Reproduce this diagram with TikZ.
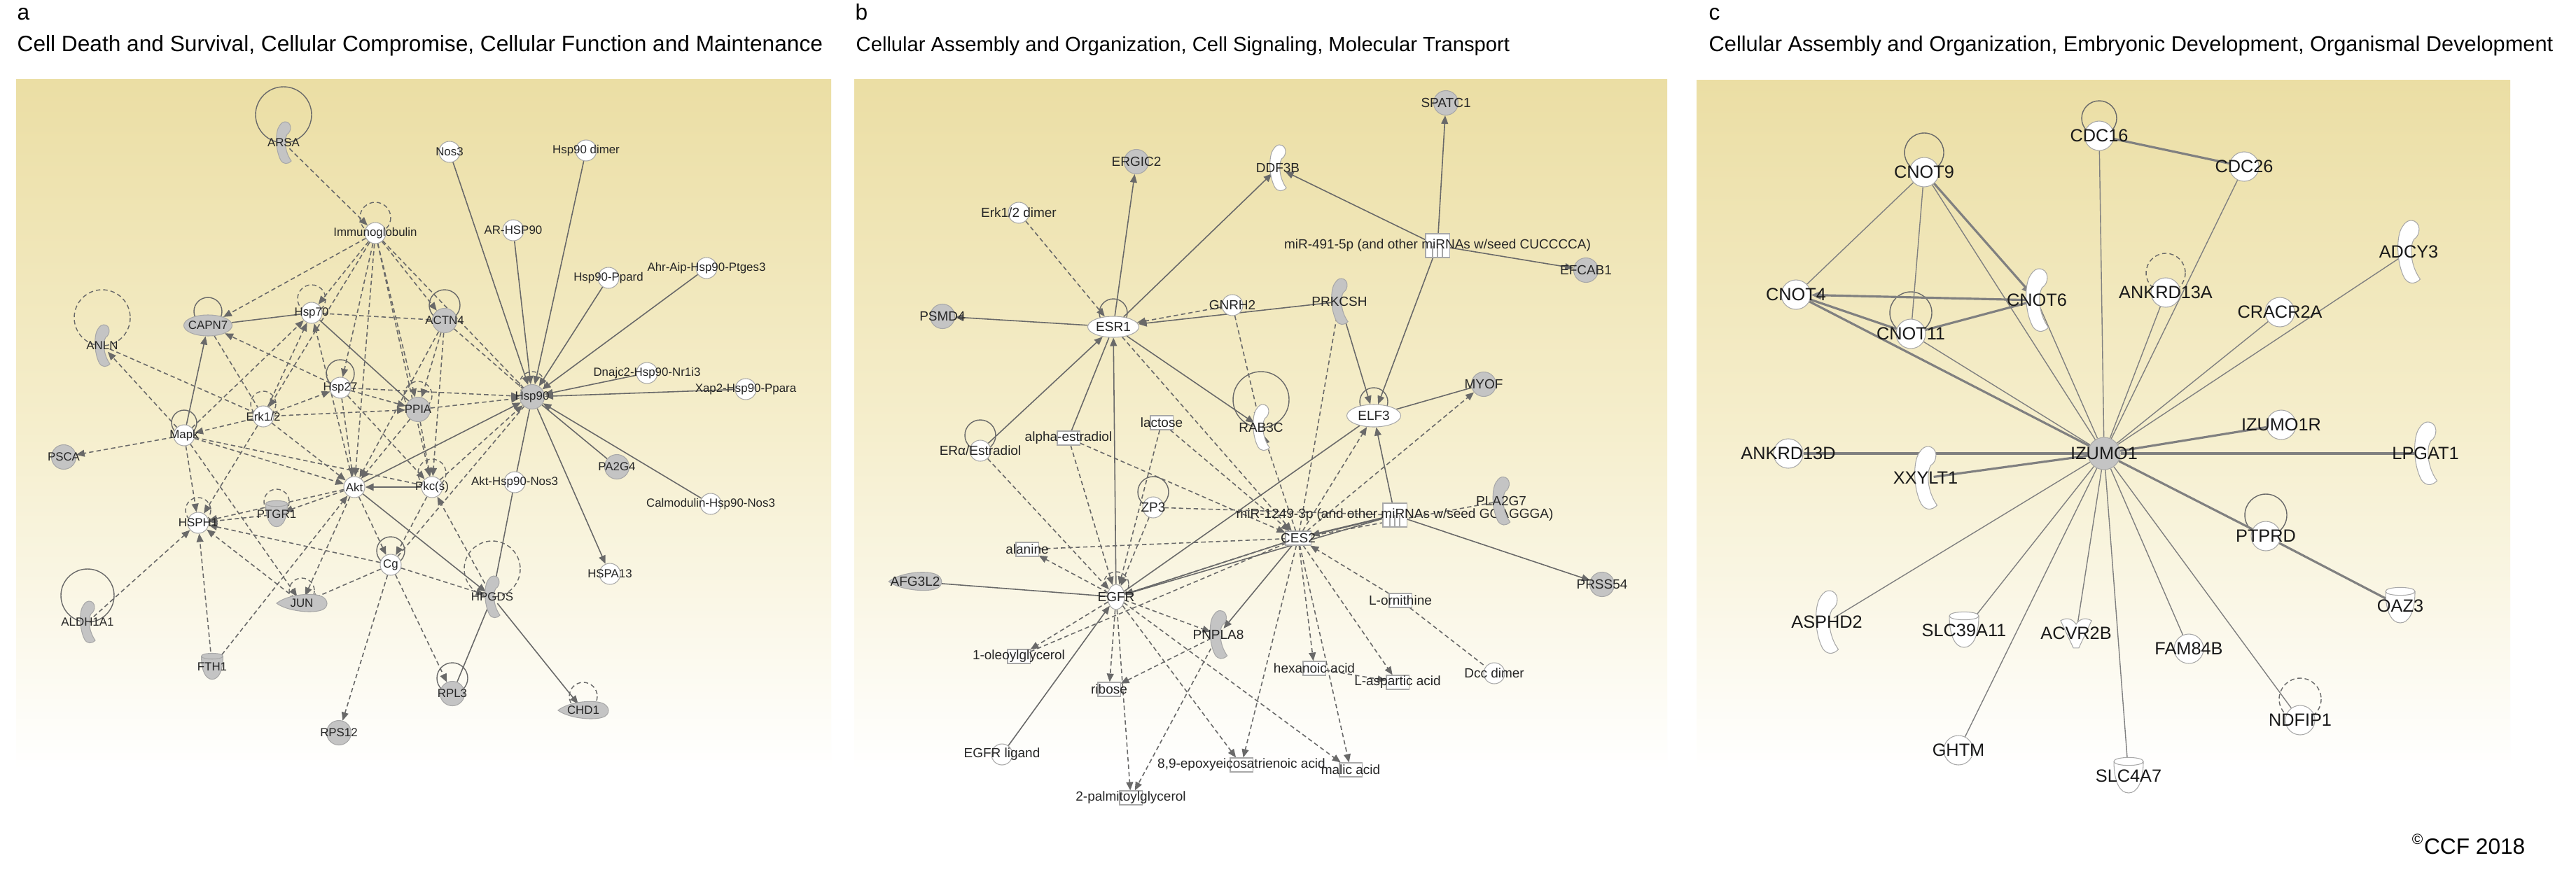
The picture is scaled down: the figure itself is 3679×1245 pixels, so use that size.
\documentclass[tikz,border=0pt]{standalone}
\usepackage{fontspec}
\setmainfont{Liberation Sans}
\usetikzlibrary{arrows.meta,shapes.geometric,calc}
\pgfdeclarelayer{panel}
\pgfdeclarelayer{bg}
\pgfsetlayers{panel,bg,main}

\definecolor{khaki}{RGB}{235,222,164}
\definecolor{khmid}{RGB}{245,238,204}
\definecolor{edgec}{RGB}{105,105,105}
\definecolor{edgecc}{RGB}{128,128,128}
\definecolor{nodeg}{RGB}{196,196,196}
\definecolor{rimc}{RGB}{168,168,168}

\tikzset{
  %% node looks
  gc/.style={circle,fill=nodeg,draw=rimc,line width=0.3pt,minimum size=0.35cm,inner sep=0pt},
  wc/.style={circle,fill=white,draw=rimc,line width=0.3pt,minimum size=0.30cm,inner sep=0pt},
  gel/.style={ellipse,fill=nodeg,draw=rimc,line width=0.3pt,minimum width=0.69cm,minimum height=0.30cm,inner sep=0pt},
  wel/.style={ellipse,fill=white,draw=rimc,line width=0.3pt,minimum width=0.73cm,minimum height=0.30cm,inner sep=0pt},
  anc/.style={circle,minimum size=0.22cm,inner sep=0pt},
  chem/.style={rectangle,fill=white,draw=rimc,line width=0.3pt,minimum width=0.32cm,minimum height=0.20cm,inner sep=0pt},
  mirbox/.style={rectangle,fill=white,draw=rimc,line width=0.3pt,minimum size=0.34cm,inner sep=0pt,
    path picture={
      \draw[rimc,line width=0.4pt] ([xshift=-0.07cm]path picture bounding box.south) -- ([xshift=-0.07cm]path picture bounding box.center);
      \draw[rimc,line width=0.4pt] (path picture bounding box.south) -- (path picture bounding box.center);
      \draw[rimc,line width=0.4pt] ([xshift=0.07cm]path picture bounding box.south) -- ([xshift=0.07cm]path picture bounding box.center);}},
  gpic/.style={fill=nodeg,draw=rimc,line width=0.3pt},
  wpic/.style={fill=white,draw=rimc,line width=0.3pt},
  la/.style={font=\fontsize{4.8}{5.5}\selectfont,text=black!85,inner sep=0pt},
  lb/.style={font=\fontsize{5.4}{6.2}\selectfont,text=black!85,inner sep=0pt},
  lc/.style={font=\fontsize{7.2}{8.2}\selectfont,text=black!90,inner sep=0pt},
  ttl/.style={anchor=base west,inner sep=0pt,font=\fontsize{9}{11}\selectfont},
  %% connectors
  sa/.style={draw=edgec,line width=0.45pt,-{Triangle[length=3.4pt,width=2.8pt]}},
  da/.style={sa,dash pattern=on 1.8pt off 1.2pt},
  sl/.style={draw=edgec,line width=0.45pt},
  dl/.style={sl,dash pattern=on 1.8pt off 1.2pt},
  lp/.style={draw=edgec,line width=0.4pt},
  dlp/.style={lp,dash pattern=on 1.8pt off 1.2pt},
  cs/.style={draw=edgecc,line width=0.4pt},
  cw/.style={draw=edgecc,line width=0.9pt},
  cwa/.style={cw,-{Triangle[length=4pt,width=3.2pt]}},
  %% shapes
  hook/.pic={\path[pic actions] (2,-30) .. controls (12,-30) and (12,-16) .. (5,-12)
      .. controls (1,-6) and (1,12) .. (11,26) .. controls (6,31) and (0,31) .. (-4,25)
      .. controls (-12,10) and (-12,-16) .. (-6,-24) .. controls (-3,-29) and (0,-30) .. (2,-30) -- cycle;},
  cup/.pic={\path[pic actions] (-14,-14) .. controls (-14,-19) and (14,-19) .. (14,-14)
      .. controls (14,6) and (8,16) .. (0,16) .. controls (-8,16) and (-14,6) .. (-14,-14) -- cycle;
    \path[draw=rimc,line width=0.3pt] (-14,-14) .. controls (-14,-9) and (14,-9) .. (14,-14);},
  tear/.pic={\path[pic actions] (-36,0) .. controls (-20,-13) and (18,-16) .. (30,-9)
      .. controls (38,-4) and (38,5) .. (30,9) .. controls (18,15) and (-20,12) .. (-36,0) -- cycle;},
  kin/.pic={\path[pic actions] (-17,-14) .. controls (-10,-18) and (-4,-16) .. (0,-10)
      .. controls (4,-16) and (10,-18) .. (17,-14) -- (3,16) -- (-3,16) -- cycle;},
}
\newcommand{\nodeloop}[3][lp]{\draw[#1] ($(#2)+(0,-#3)$) circle[radius=#3];}

\begin{document}
\begin{tikzpicture}[x=0.01cm,y=-0.01cm]
\useasboundingbox (0,0) rectangle (3679,1245);

%% panel backgrounds
\begin{pgfonlayer}{panel}
  \fill[white] (0,0) rectangle (3679,1245);
  \shade[top color=khaki,bottom color=white,middle color=khmid] (23,113) rectangle (1187,1100);
  \shade[top color=khaki,bottom color=white,middle color=khmid] (1220,113) rectangle (2381,1100);
  \shade[top color=khaki,bottom color=white,middle color=khmid] (2423,114) rectangle (3585,1100);
\end{pgfonlayer}

%% titles
\node[ttl] (pa) at (24,28) {a};
\node[ttl] (pat) at (24,73) {Cell Death and Survival, Cellular Compromise, Cellular Function and Maintenance};
\node[ttl] (pb) at (1221,28) {b};
\node[ttl,font=\fontsize{8.3}{10}\selectfont] (pbt) at (1222,73) {Cellular Assembly and Organization, Cell Signaling, Molecular Transport};
\node[ttl] (pc) at (2440,28) {c};
\node[ttl,font=\fontsize{8.75}{10.5}\selectfont] (pct) at (2440,73) {Cellular Assembly and Organization, Embryonic Development, Organismal Development};
\node[ttl,anchor=base east] (ccf) at (3607,1220) {\textsuperscript{©}CCF 2018};

%%%% panel a: the nodes
\pic[gpic] at (405,204) {hook};
\node[anc,label={[la]center:ARSA}] (arsa) at (405,204) {};
\node[wc,label={[la]center:Immunoglobulin}] (igg) at (536,333) {};
\node[wc,label={[la]center:Nos3}] (nos) at (642,217) {};
\node[wc,label={[la]center:{Hsp90 dimer}}] (hdim) at (837,215) {};
\node[wc,label={[la]center:AR-HSP90}] (arhsp) at (733,329) {};
\node[wc,label={[la]center:Hsp90-Ppard}] (hppd) at (869,397) {};
\node[wc,label={[la]center:Ahr-Aip-Hsp90-Ptges3}] (ahr) at (1009,383) {};
\node[wc,label={[la]center:Dnajc2-Hsp90-Nr1i3}] (dnaj) at (924,533) {};
\node[wc,label={[la]center:Xap2-Hsp90-Ppara}] (xap) at (1065,556) {};
\node[gc,label={[la]center:Hsp90}] (hsp) at (760,567) {};
\node[gc,label={[la]center:ACTN4}] (actn) at (635,458) {};
\node[gel,label={[la]center:CAPN7}] (capn) at (297,465) {};
\node[wc,label={[la]center:Hsp70}] (h70) at (445,447) {};
\pic[gpic] at (146,494) {hook};
\node[anc,label={[la]center:ANLN}] (anln) at (146,494) {};
\node[gc,label={[la]center:PSCA}] (psca) at (91,653) {};
\node[wc,label={[la]center:Mapk}] (mapk) at (263,622) {};
\node[wc,label={[la]center:Erk1/2}] (erk) at (376,595) {};
\node[wc,label={[la]center:Hsp27}] (h27) at (486,554) {};
\node[gc,label={[la]center:PPIA}] (ppia) at (597,585) {};
\node[wc,label={[la]center:Akt}] (akt) at (506,696) {};
\node[wc,label={[la]center:Pkc(s)}] (pkc) at (617,696) {};
\node[wc,label={[la]center:HSPH1}] (hsph) at (283,747) {};
\pic[gpic,scale=1.1] at (395,735) {cup};
\node[anc,label={[la]center:PTGR1}] (ptgr) at (395,735) {};
\pic[gpic] at (125,889) {hook};
\node[anc,label={[la]center:ALDH1A1}] (aldh) at (125,889) {};
\pic[gpic,scale=1.1] at (303,953) {cup};
\node[anc,label={[la]center:FTH1}] (fth) at (303,953) {};
\pic[gpic] at (431,862) {tear};
\node[anc,label={[la]center:JUN}] (jun) at (431,862) {};
\node[wc,label={[la]center:Cg}] (cg) at (558,807) {};
\node[gc,label={[la]center:RPS12}] (rps) at (484,1047) {};
\pic[gpic] at (703,853) {hook};
\node[anc,label={[la]center:HPGDS}] (hpgd) at (703,853) {};
\node[gc,label={[la]center:RPL3}] (rpl) at (646,991) {};
\pic[gpic] at (833,1015) {tear};
\node[anc,label={[la]center:CHD1}] (chd) at (833,1015) {};
\node[wc,label={[la]center:HSPA13}] (hspa) at (871,820) {};
\node[gc,label={[la]center:PA2G4}] (pa2g) at (881,667) {};
\node[wc,label={[la]center:Calmodulin-Hsp90-Nos3}] (calm) at (1015,720) {};
\node[wc,label={[la]center:Akt-Hsp90-Nos3}] (akth) at (735,689) {};

%%%% panel b: the nodes
\node[gc,label={[lb]center:ERGIC2}] (ergic) at (1623,231) {};
\pic[wpic,scale=1.1] at (1825,240) {hook};
\node[anc,label={[lb]center:DDF3B}] (ddf) at (1825,240) {};
\node[wc,label={[lb]center:{Erk1/2 dimer}}] (erkd) at (1455,304) {};
\node[gc,label={[lb]center:PSMD4}] (psmd) at (1346,452) {};
\node[wel,label={[lb]center:ESR1}] (esr) at (1590,467) {};
\node[wc,label={[lb]center:GNRH2}] (gnrh) at (1760,436) {};
\pic[gpic,scale=1.1] at (1913,431) {hook};
\node[anc,label={[lb]center:PRKCSH}] (prkc) at (1913,431) {};
\node[gc,label={[lb]center:SPATC1}] (spatc) at (2065,147) {};
\node[mirbox,label={[lb]center:{miR-491-5p (and other miRNAs w/seed CUCCCCA)}}] (mira) at (2053,351) {};
\node[gc,label={[lb]center:EFCAB1}] (efcab) at (2265,386) {};
\node[gc,label={[lb]center:MYOF}] (myof) at (2119,549) {};
\node[wel,minimum width=0.77cm,minimum height=0.32cm,label={[lb]center:ELF3}] (elf) at (1962,594) {};
\pic[wpic,scale=1.1] at (1801,611) {hook};
\node[anc,label={[lb]center:RAB3C}] (rab) at (1801,611) {};
\node[chem,label={[lb]center:lactose}] (lact) at (1659,604) {};
\node[chem,label={[lb]center:alpha-estradiol}] (aest) at (1526,626) {};
\node[wc,label={[lb]center:ERα/Estradiol}] (eres) at (1400,644) {};
\node[wc,label={[lb]center:ZP3}] (zp) at (1647,725) {};
\node[mirbox,label={[lb]center:{miR-1249-3p (and other miRNAs w/seed GGAGGGA)}}] (mirb) at (1992,736) {};
\node[chem,minimum width=0.36cm,label={[lb]center:CES2}] (ces) at (1854,769) {};
\pic[gpic,scale=1.15] at (2144,716) {hook};
\node[anc,label={[lb]center:PLA2G7}] (pla) at (2144,716) {};
\node[gc,label={[lb]center:PRSS54}] (prss) at (2288,835) {};
\node[chem,label={[lb]center:alanine}] (ala) at (1467,785) {};
\pic[gpic,scale=1.05] at (1307,831) {tear};
\node[anc,label={[lb]center:AFG3L2}] (afg) at (1307,831) {};
\node[wel,minimum width=0.24cm,minimum height=0.36cm,label={[lb]center:EGFR}] (egfr) at (1594,853) {};
\pic[gpic,scale=1.15] at (1740,907) {hook};
\node[anc,label={[lb]center:PNPLA8}] (pnpla) at (1740,907) {};
\node[chem,label={[lb]center:1-oleoylglycerol}] (olg) at (1455,938) {};
\node[chem,label={[lb]center:ribose}] (rib) at (1584,985) {};
\node[wc,label={[lb]center:{EGFR ligand}}] (egfl) at (1431,1078) {};
\node[chem,label={[lb]center:2-palmitoylglycerol}] (pal) at (1615,1140) {};
\node[chem,label={[lb]center:{8,9-epoxyeicosatrienoic acid}}] (epox) at (1773,1093) {};
\node[chem,label={[lb]center:{hexanoic acid}}] (hex) at (1877,955) {};
\node[chem,label={[lb]center:{L-aspartic acid}}] (asp) at (1996,975) {};
\node[chem,label={[lb]center:{malic acid}}] (mal) at (1929,1100) {};
\node[chem,label={[lb]center:L-ornithine}] (orn) at (2000,858) {};
\node[wc,label={[lb]center:{Dcc dimer}}] (dcc) at (2134,962) {};

%%%% panel c: the nodes
\node[wc,minimum size=0.42cm,label={[lc]center:CDC16}] (cdc16) at (2998,194) {};
\node[wc,minimum size=0.42cm,label={[lc]center:CDC26}] (cdc26) at (3205,238) {};
\node[wc,minimum size=0.42cm,label={[lc]center:CNOT9}] (cnot9) at (2748,246) {};
\node[wc,minimum size=0.42cm,label={[lc]center:CNOT4}] (cnot4) at (2565,421) {};
\node[wc,minimum size=0.42cm,label={[lc]center:CNOT11}] (cnot11) at (2729,477) {};
\pic[wpic,scale=1.5] at (2909,429) {hook};
\node[anc,label={[lc]center:CNOT6}] (cnot6) at (2909,429) {};
\node[wc,minimum size=0.42cm,label={[lc]center:ANKRD13A}] (ankA) at (3093,418) {};
\pic[wpic,scale=1.5] at (3440,360) {hook};
\node[anc,label={[lc]center:ADCY3}] (adcy) at (3440,360) {};
\node[wc,minimum size=0.42cm,label={[lc]center:CRACR2A}] (cracr) at (3256,446) {};
\node[wc,minimum size=0.42cm,label={[lc]center:IZUMO1R}] (izr) at (3258,607) {};
\pic[wpic,scale=1.5] at (3464,648) {hook};
\node[anc,label={[lc]center:LPGAT1}] (lpgat) at (3464,648) {};
\node[gc,minimum size=0.46cm,label={[lc]center:IZUMO1}] (izumo) at (3005,648) {};
\node[wc,minimum size=0.42cm,label={[lc]center:ANKRD13D}] (ankD) at (2554,648) {};
\pic[wpic,scale=1.5] at (2750,683) {hook};
\node[anc,label={[lc]center:XXYLT1}] (xxylt) at (2750,683) {};
\node[wc,minimum size=0.42cm,label={[lc]center:PTPRD}] (ptprd) at (3236,766) {};
\pic[wpic,scale=1.5] at (2609,889) {hook};
\node[anc,label={[lc]center:ASPHD2}] (asphd) at (2609,889) {};
\pic[wpic,scale=1.5] at (2805,901) {cup};
\node[anc,label={[lc]center:SLC39A11}] (slcA) at (2805,901) {};
\pic[wpic,scale=1.3] at (2965,905) {kin};
\node[anc,label={[lc]center:ACVR2B}] (acvr) at (2965,905) {};
\node[wc,minimum size=0.42cm,label={[lc]center:FAM84B}] (fam) at (3126,927) {};
\pic[wpic,scale=1.5] at (3428,866) {cup};
\node[anc,label={[lc]center:OAZ3}] (oaz) at (3428,866) {};
\node[wc,minimum size=0.42cm,label={[lc]center:NDFIP1}] (ndfip) at (3285,1029) {};
\node[wc,minimum size=0.42cm,label={[lc]center:GHTM}] (ghtm) at (2797,1072) {};
\pic[wpic,scale=1.5] at (3040,1109) {cup};
\node[anc,label={[lc]center:SLC4A7}] (slcB) at (3040,1109) {};

\begin{pgfonlayer}{bg}
%%%% panel a: loops
\nodeloop{arsa}{40}
\nodeloop[dlp]{igg}{22}
\nodeloop[dlp]{hsp}{18}
\nodeloop{actn}{22}
\nodeloop{capn}{20}
\nodeloop[dlp]{h70}{20}
\nodeloop[dlp]{anln}{40}
\nodeloop{mapk}{18}
\nodeloop[dlp]{erk}{18}
\nodeloop{h27}{20}
\nodeloop[dlp]{ppia}{20}
\nodeloop[dlp]{pkc}{20}
\nodeloop[dlp]{hsph}{18}
\nodeloop[dlp]{ptgr}{18}
\nodeloop{aldh}{38}
\nodeloop[dlp]{jun}{18}
\nodeloop{cg}{20}
\nodeloop[dlp]{hpgd}{40}
\nodeloop{rpl}{22}
\nodeloop[dlp]{chd}{20}

%%%% panel a: into the Hsp90 hub
\draw[sa](nos) to (hsp);
\draw[sa](hdim) to (hsp);
\draw[sa](arhsp) to (hsp);
\draw[sa](hppd) to (hsp);
\draw[sa](ahr) to (hsp);
\draw[sa](dnaj) to (hsp);
\draw[sa](xap) to (hsp);
\draw[sa](calm) to (hsp);
\draw[sl](pa2g) to (hsp);
\draw[sa](hsp) to (hspa);
\draw[sl](hsp) to (akth);
\draw[sa](akt) to (hsp);
\draw[da](pkc) to (hsp);
\draw[da](h27) to (hsp);
\draw[da](ppia) to (hsp);
\draw[dl](actn) to (hsp);
\draw[dl](igg) to (hsp);
\draw[dl](cg) to (hsp);

%%%% panel a: Immunoglobulin
\draw[da](arsa) to (igg);
\draw[da](igg) to (capn);
\draw[da](igg) to (h70);
\draw[da](igg) to (actn);
\draw[da](igg) to (h27);
\draw[da](igg) to (akt);
\draw[da](igg) to (pkc);
\draw[da](igg) to (ppia);
\draw[da](igg) to (erk);

%%%% panel a: left cluster
\draw[sl](capn) to (h70);
\draw[sa](mapk) to (capn);
\draw[da](h27) to (capn);
\draw[dl](capn) to (erk);
\draw[dl](h70) to (actn);
\draw[sl](h70) to (ppia);
\draw[da](mapk) to (h70);
\draw[da](erk) to (h70);
\draw[da](akt) to (h70);
\draw[da](mapk) to (anln);
\draw[dl](anln) to (erk);
\draw[da](mapk) to (psca);
\draw[da](mapk) to (hsph);
\draw[da](mapk) to (akt);
\draw[dl](mapk) to (pkc);
\draw[da](erk) to (mapk);
\draw[da](erk) to (akt);
\draw[da](erk) to (hsph);
\draw[da](erk) to (h27);
\draw[da](erk) to (ppia);
\draw[da](h27) to (akt);
\draw[da](h27) to (pkc);
\draw[da](h27) to (ppia);
\draw[da](ppia) to (akt);
\draw[da](ppia) to (pkc);
\draw[da](actn) to (akt);
\draw[da](actn) to (ppia);
\draw[da](actn) to (pkc);
\draw[sa,line width=0.8pt](pkc) to (akt);
\draw[da](ptgr) to (hsph);
\draw[da](akt) to (hsph);
\draw[da](cg) to (hsph);
\draw[da](aldh) to (hsph);
\draw[da](fth) to (hsph);
\draw[da](jun) to (hsph);
\draw[da](fth) to (akt);
\draw[da](akt) to (ptgr);
\draw[da](akt) to (jun);
\draw[da](cg) to (jun);
\draw[da](mapk) to (jun);
\draw[da](akt) to (cg);
\draw[da](pkc) to (cg);

%%%% panel a: lower right
\draw[sl](akth) to (hpgd);
\draw[sa](hpgd) to (chd);
\draw[sl](hpgd) to (rpl);
\draw[sa](akt) to (hpgd);
\draw[da](cg) to (hpgd);
\draw[da](hpgd) to (pkc);
\draw[da](cg) to (rpl);
\draw[da](cg) to (rps);

%%%% panel b: loops
\nodeloop{esr}{20}
\nodeloop{elf}{20}
\nodeloop{rab}{40}
\nodeloop{eres}{22}
\nodeloop{zp}{22}
\nodeloop[dlp]{egfr}{18}

%%%% panel b: ESR1
\draw[sa](esr) to (ergic);
\draw[sa](esr) to (ddf);
\draw[da](erkd) to (esr);
\draw[sa](esr) to (psmd);
\draw[da](gnrh) to (esr);
\draw[sa](prkc) to (esr);
\draw[sa](eres) to (esr);
\draw[sl](aest) to (esr);
\draw[sa](egfr) to (esr);
\draw[sa](esr) to (rab);
\draw[da](esr) to (ces);
\draw[da](gnrh) to (rab);

%%%% panel b: miRNAs
\draw[sa](mira) to (spatc);
\draw[sa](mira) to (ddf);
\draw[sa](mira) to (efcab);
\draw[sa](mira) to (elf);
\draw[sa](mirb) to (elf);
\draw[sa](mirb) to (prss);
\draw[sa,line width=0.7pt](mirb) to (ces);
\draw[sa](mirb) to (egfr);
\draw[dl](zp) to (mirb);

%%%% panel b: ELF3 and CES2
\draw[sa](prkc) to (elf);
\draw[dl](prkc) to (ces);
\draw[sl](elf) to (myof);
\draw[da](ces) to (myof);
\draw[sl](elf) to (egfr);
\draw[da](ces) to (elf);
\draw[da](ces) to (rab);
\draw[dl](pla) to (ces);
\draw[sa](ces) to (egfr);
\draw[da](lact) to (ces);
\draw[da](aest) to (ces);
\draw[dl](ala) to (ces);
\draw[dl](olg) to (ces);
\draw[dl](egfr) to (ces);
\draw[sa](ces) to (pnpla);
\draw[da](ces) to (hex);
\draw[da](ces) to (mal);
\draw[da](ces) to (asp);
\draw[da](ces) to (epox);
\draw[da](orn) to (ces);
\draw[dl](orn) to (dcc);
\draw[da](hex) to (asp);

%%%% panel b: EGFR
\draw[da](zp) to (egfr);
\draw[da](lact) to (egfr);
\draw[da](aest) to (egfr);
\draw[da](eres) to (egfr);
\draw[da](egfr) to (ala);
\draw[sl](afg) to (egfr);
\draw[da](egfr) to (olg);
\draw[da](egfr) to (rib);
\draw[da](egfr) to (pal);
\draw[da](egfr) to (epox);
\draw[sa](egfl) to (egfr);
\draw[da](egfr) to (pnpla);
\draw[da](egfr) to (mal);
\draw[da](pnpla) to (pal);
\draw[da](pnpla) to (rib);

%%%% panel c: loops
\nodeloop{cdc16}{25}
\nodeloop{cnot9}{28}
\nodeloop{cnot11}{30}
\nodeloop[dlp]{ankA}{28}
\nodeloop{ptprd}{30}
\nodeloop[dlp]{ndfip}{30}

%%%% panel c: IZUMO1 star
\draw[cs](izumo) to (cdc16);
\draw[cs](izumo) to (cdc26);
\draw[cs](izumo) to (cnot9);
\draw[cw](izumo) to (cnot4);
\draw[cs](izumo) to (cnot11);
\draw[cs](izumo) to (cnot6);
\draw[cs](izumo) to (ankA);
\draw[cs](izumo) to (cracr);
\draw[cs](izumo) to (adcy);
\draw[cw](izumo) to (izr);
\draw[cw](izumo) to (lpgat);
\draw[cw](izumo) to (ankD);
\draw[cw](izumo) to (xxylt);
\draw[cw](izumo) to (ptprd);
\draw[cs](izumo) to (asphd);
\draw[cs](izumo) to (slcA);
\draw[cs](izumo) to (acvr);
\draw[cs](izumo) to (fam);
\draw[cs](izumo) to (ndfip);
\draw[cs](izumo) to (ghtm);
\draw[cs](izumo) to (slcB);

%%%% panel c: CNOT complex
\draw[cw](cdc16) to (cdc26);
\draw[cs](cnot9) to (cnot4);
\draw[cs](cnot9) to (cnot11);
\draw[cwa](cnot9) to (cnot6);
\draw[cwa](cnot6) to (cnot4);
\draw[cw](cnot4) to (cnot11);
\draw[cw](cnot11) to (cnot6);
\draw[cw](ptprd) to (oaz);
\end{pgfonlayer}
\end{tikzpicture}
\end{document}
